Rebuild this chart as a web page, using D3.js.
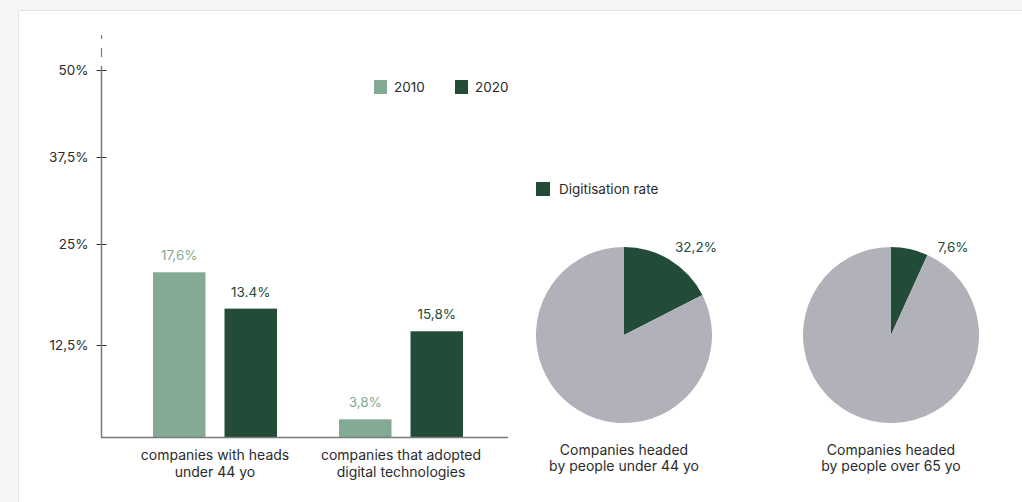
<!DOCTYPE html>
<html>
<head>
<meta charset="utf-8">
<script src="https://cdn.jsdelivr.net/npm/d3@7"></script>
<style>
  html, body { margin: 0; padding: 0; background: #f6f6f6; }
  body { width: 1022px; height: 502px; overflow: hidden; }
  #panel {
    position: absolute; left: 18px; top: 10px; width: 1010px; height: 500px;
    background: #fff; border: 1px solid #e2e2e2;
  }
  svg { position: absolute; left: 0; top: 0; font-family: Inter, "Noto Sans", sans-serif; }
</style>
</head>
<body>
<div id="panel"></div>
<svg id="chart" width="1022" height="502"></svg>
<script>
// categories of the bar chart (each split in two lines)
const categories = [
  ["companies with heads", "under 44 yo"],
  ["companies that adopted", "digital technologies"]
];
const years = ["2010", "2020"];

// bar heights as they sit on the axis, and the labels written above them
const values2010 = [21.5, 2.4];
const values2020 = [17.0, 14.2];
const labels2010 = ["17,6%", "3,8%"];
const labels2020 = ["13.4%", "15,8%"];

const yTicks = [12.5, 25, 37.5, 50];
const yTickLabels = ["12,5%", "25%", "37,5%", "50%"];

// pies: share of the dark slice (as drawn) and its label
const pieNames = [
  ["Companies headed", "by people under 44 yo"],
  ["Companies headed", "by people over 65 yo"]
];
const pieShares = [17.5, 6.8];
const pieLabels = ["32,2%", "7,6%"];

const colorLight = "#82aa94";
const colorDark = "#224c37";
const colorGrey = "#b0b1b9";
const axisColor = "#7a7a7a";
const textColor = "#2b2b2b";

const svg = d3.select("#chart");

// ---------- bar chart ----------
const y = d3.scaleLinear()
    .domain([0, 12.5, 25, 37.5, 50])
    .range([437, 345, 244, 157, 70]);

const x0 = d3.scaleBand()
    .domain(d3.range(categories.length))
    .range([122, 494]);

const x1 = d3.scaleBand()
    .domain(years)
    .range([31, 155])
    .paddingInner(0.266);

const color = d3.scaleOrdinal().domain(years).range([colorLight, colorDark]);

const barData = [];
categories.forEach((c, i) => {
    barData.push({cat: i, year: "2010", value: values2010[i], label: labels2010[i]});
    barData.push({cat: i, year: "2020", value: values2020[i], label: labels2020[i]});
});

// dashed extension above the axis
svg.append("line")
    .attr("x1", 101.5).attr("x2", 101.5)
    .attr("y1", 35).attr("y2", 66)
    .attr("stroke", axisColor)
    .attr("stroke-width", 1.2)
    .attr("stroke-dasharray", "4 9 9 20");

// y axis
const yAxis = svg.append("g")
    .attr("transform", "translate(101.5,0)")
    .call(d3.axisLeft(y)
        .tickValues(yTicks)
        .tickFormat((d, i) => yTickLabels[i])
        .tickSize(0));

yAxis.select(".domain").remove();
yAxis.selectAll(".tick line")
    .attr("x1", -5).attr("x2", 5)
    .attr("stroke", "#333");
yAxis.selectAll(".tick text")
    .attr("x", -13)
    .attr("fill", textColor)
    .style("font-size", "13.5px")
    .style("font-family", "Inter, sans-serif");

svg.append("line")
    .attr("x1", 101.5).attr("x2", 101.5)
    .attr("y1", y(50) - 4).attr("y2", y(0))
    .attr("stroke", axisColor)
    .attr("stroke-width", 1.5);

// bars
svg.selectAll(".bar")
    .data(barData)
    .enter()
    .append("rect")
    .attr("class", "bar")
    .attr("x", d => x0(d.cat) + x1(d.year))
    .attr("y", d => y(d.value))
    .attr("width", x1.bandwidth())
    .attr("height", d => y(0) - y(d.value))
    .attr("fill", d => color(d.year));

svg.selectAll(".bar-label")
    .data(barData)
    .enter()
    .append("text")
    .attr("class", "bar-label")
    .attr("x", d => x0(d.cat) + x1(d.year) + x1.bandwidth() / 2)
    .attr("y", d => y(d.value) - 12)
    .attr("text-anchor", "middle")
    .attr("fill", d => color(d.year))
    .style("font-size", "13.5px")
    .text(d => d.label);

// baseline
svg.append("line")
    .attr("x1", 101).attr("x2", 508)
    .attr("y1", y(0) + 0.5).attr("y2", y(0) + 0.5)
    .attr("stroke", axisColor)
    .attr("stroke-width", 1.5);

// category labels
categories.forEach((lines, i) => {
    const t = svg.append("text")
        .attr("text-anchor", "middle")
        .attr("fill", textColor)
        .style("font-size", "14px");
    lines.forEach((line, j) => {
        t.append("tspan")
            .attr("x", x0(i) + x0.bandwidth() / 2)
            .attr("y", 460 + j * 16.5)
            .text(line);
    });
});

// legend for years
const legend = svg.selectAll(".legend")
    .data(years)
    .enter()
    .append("g")
    .attr("class", "legend")
    .attr("transform", (d, i) => `translate(${374 + i * 81},80)`);

legend.append("rect")
    .attr("width", 13).attr("height", 14)
    .attr("fill", d => color(d));

legend.append("text")
    .attr("x", 20).attr("y", 12)
    .attr("fill", textColor)
    .style("font-size", "13.5px")
    .text(d => d);

// ---------- pies ----------
const pieX = d3.scalePoint().domain(d3.range(pieNames.length)).range([624, 891]);
const pieY = 335;
const radius = 88;

const pie = d3.pie().sort(null).value(d => d);
const arc = d3.arc().innerRadius(0).outerRadius(radius);

pieShares.forEach((share, i) => {
    const g = svg.append("g")
        .attr("transform", `translate(${pieX(i)},${pieY})`);

    g.selectAll("path")
        .data(pie([share, 100 - share]))
        .enter()
        .append("path")
        .attr("d", arc)
        .attr("fill", (d, k) => k === 0 ? colorDark : colorGrey);

    g.append("text")
        .attr("x", i === 0 ? 72 : 62)
        .attr("y", -83)
        .attr("text-anchor", "middle")
        .attr("fill", colorDark)
        .style("font-size", "13.5px")
        .text(pieLabels[i]);

    const t = g.append("text")
        .attr("text-anchor", "middle")
        .attr("fill", textColor)
        .style("font-size", "14px");
    pieNames[i].forEach((line, j) => {
        t.append("tspan")
            .attr("x", 0)
            .attr("y", 120 + j * 16)
            .text(line);
    });
});

// legend for pies
const pieLegend = svg.append("g").attr("transform", "translate(536,182)");
pieLegend.append("rect")
    .attr("width", 14).attr("height", 14)
    .attr("fill", colorDark);
pieLegend.append("text")
    .attr("x", 23).attr("y", 12)
    .attr("fill", textColor)
    .style("font-size", "13.5px")
    .text("Digitisation rate");
</script>
</body>
</html>
